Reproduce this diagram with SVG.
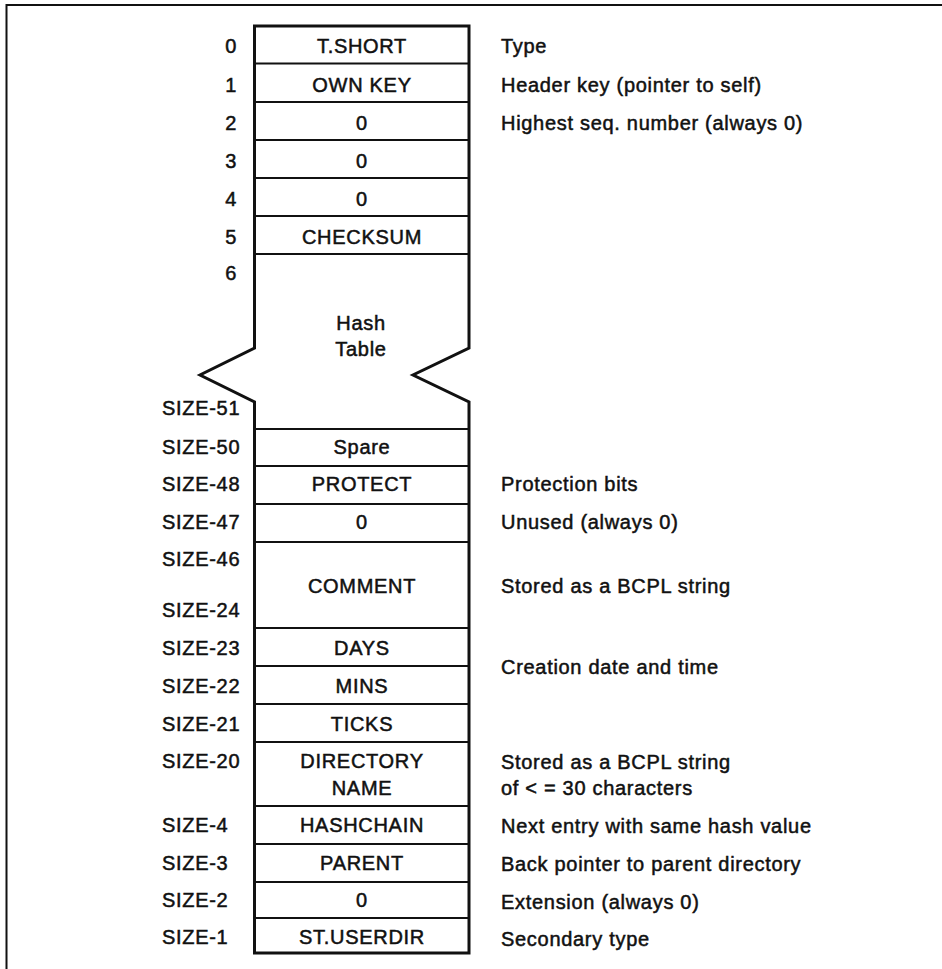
<svg xmlns="http://www.w3.org/2000/svg" width="942" height="969" viewBox="0 0 942 969">
  <style>
    text { font-family: "Liberation Sans", Arial, Helvetica, sans-serif; font-size: 20px; letter-spacing: 0.7px; fill: #111; stroke: #111; stroke-width: 0.5px; }
    .field { text-anchor: middle; }
    .num { text-anchor: end; }
    .off { text-anchor: start; }
    .desc { text-anchor: start; }
    .frame { fill: none; stroke: #111; stroke-width: 2px; }
    .outline { fill: #fff; stroke: #111; stroke-width: 3px; stroke-linejoin: miter; }
    .sep { stroke: #111; stroke-width: 1.8px; }
  </style>

  <rect width="942" height="969" fill="#fff"/>

  <!-- page frame (top and left rules) -->
  <path class="frame" d="M6.5,969 V5 H942"/>

  <!-- block outline with the broken hash-table section -->
  <path class="outline" d="M254.5,26 H469 V348 L413,375 L469,402 V953 H254.5 V402 L200,375 L254.5,348 Z"/>

  <!-- slot separators -->
  <g id="separators">
    <line class="sep" x1="254.5" y1="63.5" x2="469" y2="63.5"/>
    <line class="sep" x1="254.5" y1="102" x2="469" y2="102"/>
    <line class="sep" x1="254.5" y1="140" x2="469" y2="140"/>
    <line class="sep" x1="254.5" y1="178" x2="469" y2="178"/>
    <line class="sep" x1="254.5" y1="216" x2="469" y2="216"/>
    <line class="sep" x1="254.5" y1="254" x2="469" y2="254"/>
    <line class="sep" x1="254.5" y1="429" x2="469" y2="429"/>
    <line class="sep" x1="254.5" y1="466" x2="469" y2="466"/>
    <line class="sep" x1="254.5" y1="504" x2="469" y2="504"/>
    <line class="sep" x1="254.5" y1="542" x2="469" y2="542"/>
    <line class="sep" x1="254.5" y1="628" x2="469" y2="628"/>
    <line class="sep" x1="254.5" y1="666" x2="469" y2="666"/>
    <line class="sep" x1="254.5" y1="704" x2="469" y2="704"/>
    <line class="sep" x1="254.5" y1="742" x2="469" y2="742"/>
    <line class="sep" x1="254.5" y1="806" x2="469" y2="806"/>
    <line class="sep" x1="254.5" y1="844" x2="469" y2="844"/>
    <line class="sep" x1="254.5" y1="882" x2="469" y2="882"/>
    <line class="sep" x1="254.5" y1="918" x2="469" y2="918"/>
  </g>

  <g id="connectors"/>

  <g id="slot-0">
    <text class="num" x="237" y="53">0</text>
    <text class="field" x="362" y="53">T.SHORT</text>
    <text class="desc" x="501" y="53">Type</text>
  </g>
  <g id="slot-1">
    <text class="num" x="237" y="92">1</text>
    <text class="field" x="362" y="92">OWN KEY</text>
    <text class="desc" x="501" y="92">Header key (pointer to self)</text>
  </g>
  <g id="slot-2">
    <text class="num" x="237" y="130">2</text>
    <text class="field" x="362" y="130">0</text>
    <text class="desc" x="501" y="130">Highest seq. number (always 0)</text>
  </g>
  <g id="slot-3">
    <text class="num" x="237" y="168">3</text>
    <text class="field" x="362" y="168">0</text>
  </g>
  <g id="slot-4">
    <text class="num" x="237" y="206">4</text>
    <text class="field" x="362" y="206">0</text>
  </g>
  <g id="slot-5">
    <text class="num" x="237" y="244">5</text>
    <text class="field" x="362" y="244">CHECKSUM</text>
  </g>
  <g id="hash-table">
    <text class="num" x="237" y="280">6</text>
    <text class="field" x="361" y="330">Hash</text>
    <text class="field" x="361" y="356">Table</text>
    <text class="off" x="162" y="415">SIZE-51</text>
  </g>
  <g id="spare">
    <text class="off" x="162" y="454">SIZE-50</text>
    <text class="field" x="362" y="454">Spare</text>
  </g>
  <g id="protect">
    <text class="off" x="162" y="491">SIZE-48</text>
    <text class="field" x="362" y="491">PROTECT</text>
    <text class="desc" x="501" y="491">Protection bits</text>
  </g>
  <g id="unused">
    <text class="off" x="162" y="529">SIZE-47</text>
    <text class="field" x="362" y="529">0</text>
    <text class="desc" x="501" y="529">Unused (always 0)</text>
  </g>
  <g id="comment">
    <text class="off" x="162" y="566">SIZE-46</text>
    <text class="field" x="362" y="593">COMMENT</text>
    <text class="desc" x="501" y="593">Stored as a BCPL string</text>
    <text class="off" x="162" y="617">SIZE-24</text>
  </g>
  <g id="days">
    <text class="off" x="162" y="655">SIZE-23</text>
    <text class="field" x="362" y="655">DAYS</text>
  </g>
  <g id="mins">
    <text class="off" x="162" y="693">SIZE-22</text>
    <text class="field" x="362" y="693">MINS</text>
    <text class="desc" x="501" y="674">Creation date and time</text>
  </g>
  <g id="ticks">
    <text class="off" x="162" y="731">SIZE-21</text>
    <text class="field" x="362" y="731">TICKS</text>
  </g>
  <g id="directory-name">
    <text class="off" x="162" y="768">SIZE-20</text>
    <text class="field" x="362" y="768">DIRECTORY</text>
    <text class="field" x="362" y="795">NAME</text>
    <text class="desc" x="501" y="769">Stored as a BCPL string</text>
    <text class="desc" x="501" y="795">of &lt; = 30 characters</text>
  </g>
  <g id="hashchain">
    <text class="off" x="162" y="832">SIZE-4</text>
    <text class="field" x="362" y="832">HASHCHAIN</text>
    <text class="desc" x="501" y="833">Next entry with same hash value</text>
  </g>
  <g id="parent">
    <text class="off" x="162" y="870">SIZE-3</text>
    <text class="field" x="362" y="870">PARENT</text>
    <text class="desc" x="501" y="871">Back pointer to parent directory</text>
  </g>
  <g id="extension">
    <text class="off" x="162" y="907">SIZE-2</text>
    <text class="field" x="362" y="907">0</text>
    <text class="desc" x="501" y="909">Extension (always 0)</text>
  </g>
  <g id="secondary-type">
    <text class="off" x="162" y="944">SIZE-1</text>
    <text class="field" x="362" y="944">ST.USERDIR</text>
    <text class="desc" x="501" y="946">Secondary type</text>
  </g>
</svg>
